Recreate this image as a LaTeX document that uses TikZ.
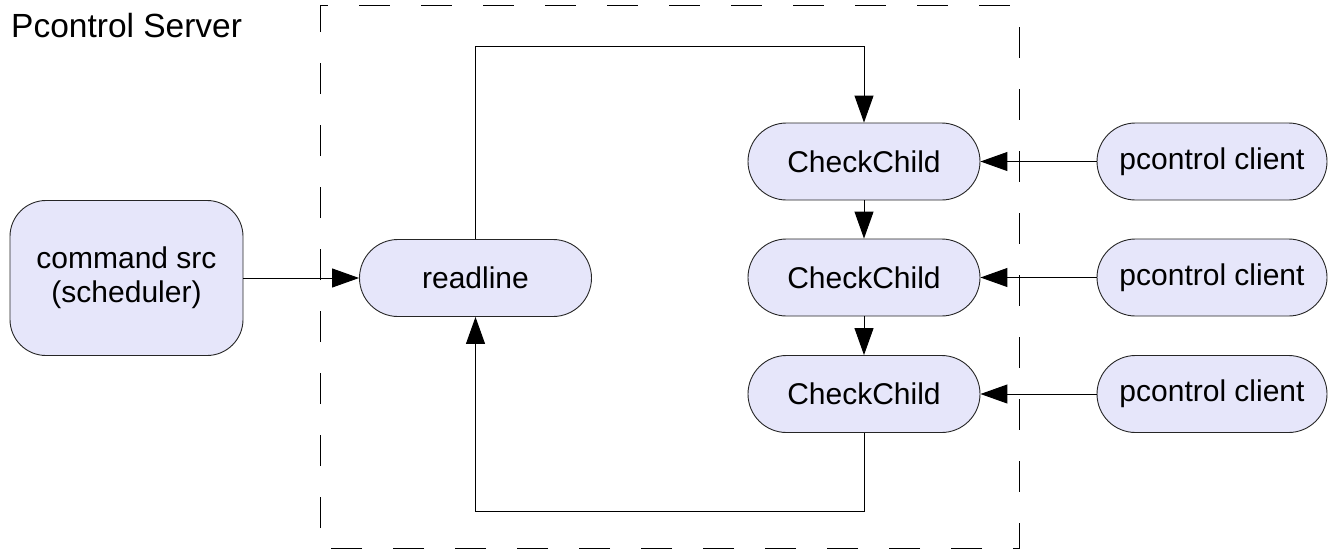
\documentclass[tikz,border=0pt]{standalone}
\usepackage{fontspec}
\setmainfont{Liberation Sans}
\usetikzlibrary{arrows.meta}
\definecolor{boxfill}{RGB}{230,230,250}
\begin{document}
\begin{tikzpicture}[x=1pt,y=-1pt,
  base/.style={draw=black!85, fill=boxfill, line width=0.9pt, inner sep=0pt,
    font=\fontsize{30}{34}\selectfont, align=center},
  pill/.style={base, rounded corners=38.5pt, minimum width=232pt, minimum height=77pt},
  srcbox/.style={base, rounded corners=36pt, minimum width=233pt, minimum height=155pt},
  flow/.style={line width=1pt, line join=miter, -{Triangle[length=27pt,width=19pt]}},
  frame/.style={line width=1pt, dash pattern=on 31pt off 31pt, dash phase=23pt}
]
\useasboundingbox (0,0) rectangle (1330,552);

% server boundary
\draw[frame] (320,5) -- (1019,5) -- (1019,548) -- (320,548) -- cycle;
\node[anchor=base west, inner sep=0pt, font=\fontsize{33.5}{40}\selectfont] (title) at (11,37) {Pcontrol Server};

% processes
\node[srcbox] (src) at (126.5,278) {command src\\(scheduler)};
\node[pill] (rl) at (475.5,278) {readline};
\node[pill] (cc1) at (864,161.5) {CheckChild};
\node[pill] (cc2) at (864,277.5) {CheckChild};
\node[pill] (cc3) at (864,394) {CheckChild};
\node[pill, minimum width=230pt] (cl1) at (1212,161.5) {pcontrol client};
\node[pill, minimum width=230pt] (cl2) at (1212,277.5) {pcontrol client};
\node[pill, minimum width=230pt] (cl3) at (1212,394) {pcontrol client};

% loop corners
\coordinate (top) at (475.5,46);
\coordinate (bot) at (475.5,511);

% connectors
\draw[flow] (src) -- (rl);
\draw[flow] (rl.north) -- (top) -- (cc1.north |- top) -- (cc1.north);
\draw[flow] (cc1) -- (cc2);
\draw[flow] (cc2) -- (cc3);
\draw[flow] (cc3.south) -- (cc3.south |- bot) -- (bot) -- (rl.south);
\draw[flow] (cl1) -- (cc1);
\draw[flow] (cl2) -- (cc2);
\draw[flow] (cl3) -- (cc3);
\end{tikzpicture}
\end{document}
